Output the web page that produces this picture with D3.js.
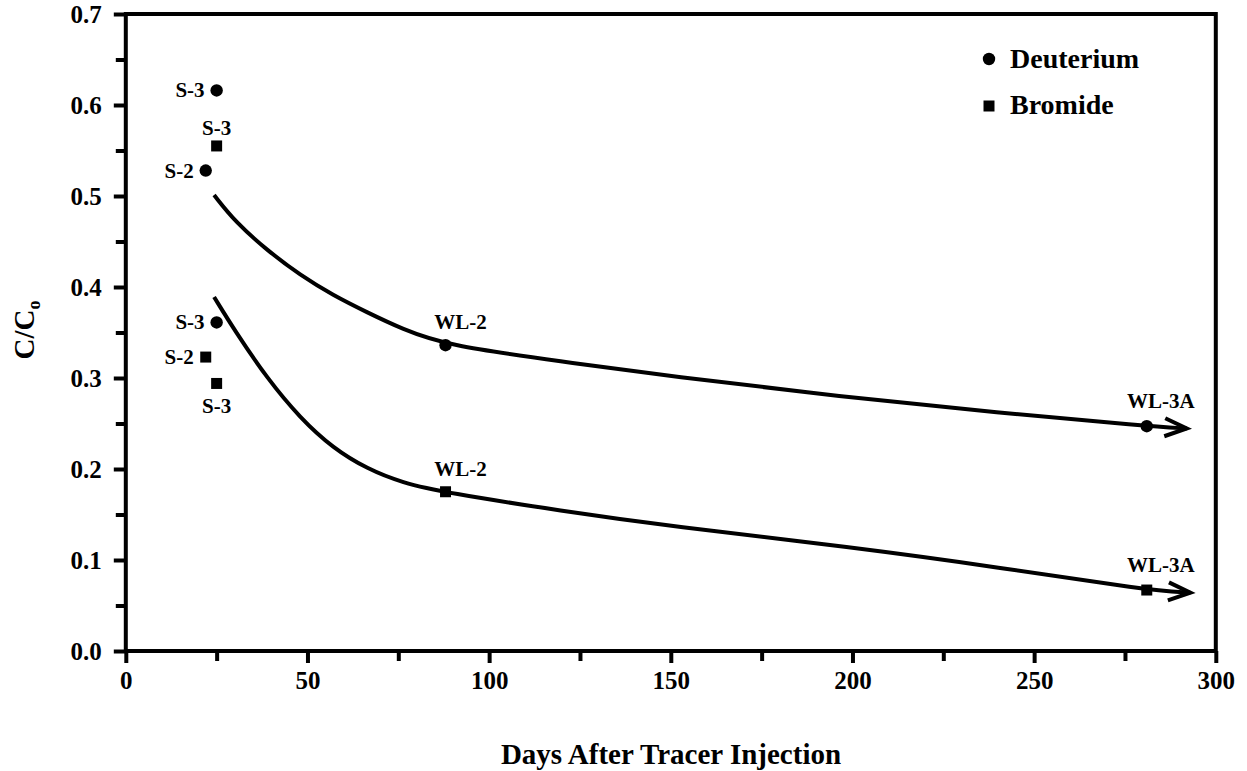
<!DOCTYPE html>
<html>
<head>
<meta charset="utf-8">
<script src="https://cdn.jsdelivr.net/npm/d3@7"></script>
<style>
  body { margin: 0; background: #fff; }
  text { font-family: "Liberation Serif", "Times New Roman", serif; font-weight: bold; fill: #000; }
</style>
</head>
<body>
<svg id="chart"></svg>
<script>
// Data
const deutDays   = [25, 22, 25, 88, 281];
const deutC      = [0.616, 0.528, 0.361, 0.336, 0.247];
const deutLabels = ["S-3", "S-2", "S-3", "WL-2", "WL-3A"];

const bromDays   = [25, 22, 25, 88, 281];
const bromC      = [0.555, 0.323, 0.294, 0.175, 0.067];
const bromLabels = ["S-3", "S-2", "S-3", "WL-2", "WL-3A"];

// hand drawn trend curves (ending in arrows)
const deutCurveX = [24.3, 30, 39, 48, 57, 66.5, 76, 88, 120, 150, 197, 240, 281, 292];
const deutCurveY = [0.501, 0.472, 0.440, 0.413, 0.391, 0.372, 0.354, 0.336, 0.318, 0.302, 0.2795, 0.262, 0.247, 0.2445];
const bromCurveX = [24.3, 30, 39, 48, 57, 66.5, 76, 88, 120, 150, 200, 240, 281, 293];
const bromCurveY = [0.389, 0.352, 0.299, 0.256, 0.223, 0.200, 0.185, 0.174, 0.154, 0.137, 0.114, 0.092, 0.067, 0.064];

const xTicks = [0, 50, 100, 150, 200, 250, 300];
const yTicks = [0.0, 0.1, 0.2, 0.3, 0.4, 0.5, 0.6, 0.7];

const legendNames = ["Deuterium", "Bromide"];

// where each point label sits
const deutLabelPos = ["left", "left", "left", "above", "aboveRight"];
const bromLabelPos = ["above", "left", "below", "above", "aboveRight"];

const width = 1247, height = 771;
const svg = d3.select("#chart").attr("width", width).attr("height", height);

const x = d3.scaleLinear().domain([0, 300]).range([125.8, 1215.8]);
const y = d3.scaleLinear().domain([0, 0.7]).range([651, 14]);

// frame
svg.append("rect")
  .attr("x", x(0)).attr("y", y(0.7))
  .attr("width", x(300) - x(0)).attr("height", y(0) - y(0.7))
  .attr("fill", "none").attr("stroke", "#000").attr("stroke-width", 4);

// x axis
const xAxis = d3.axisBottom(x).tickValues(xTicks).tickSize(12).tickPadding(8).tickFormat(d3.format("d"));
const gx = svg.append("g").attr("transform", `translate(0,${y(0)})`).call(xAxis);
gx.select(".domain").remove();
gx.selectAll(".tick line").attr("stroke-width", 4);
gx.selectAll(".tick text").style("font-size", "25px");
const gxm = svg.append("g").attr("transform", `translate(0,${y(0)})`)
  .call(d3.axisBottom(x).tickValues(d3.range(25, 300, 50)).tickSize(10).tickFormat(""));
gxm.select(".domain").remove();
gxm.selectAll(".tick line").attr("stroke-width", 4);

// y axis
const yAxis = d3.axisLeft(y).tickValues(yTicks).tickSize(12).tickPadding(12).tickFormat(d3.format(".1f"));
const gy = svg.append("g").attr("transform", `translate(${x(0)},0)`).call(yAxis);
gy.select(".domain").remove();
gy.selectAll(".tick line").attr("stroke-width", 4);
gy.selectAll(".tick text").style("font-size", "25px");
const gym = svg.append("g").attr("transform", `translate(${x(0)},0)`)
  .call(d3.axisLeft(y).tickValues(d3.range(0.05, 0.7, 0.1)).tickSize(10).tickFormat(""));
gym.select(".domain").remove();
gym.selectAll(".tick line").attr("stroke-width", 4);

// axis titles
svg.append("text")
  .attr("x", 671).attr("y", 764)
  .attr("text-anchor", "middle")
  .style("font-size", "29px")
  .text("Days After Tracer Injection");

const yt = svg.append("text")
  .attr("transform", "translate(34,330) rotate(-90)")
  .attr("text-anchor", "middle")
  .style("font-size", "29px");
yt.append("tspan").text("C/C");
yt.append("tspan").attr("dy", 6).style("font-size", "18px").text("o");

// curves
const line = d3.line().x(d => x(d[0])).y(d => y(d[1])).curve(d3.curveBasis);

function drawCurve(xs, ys) {
  const pts = xs.map((v, i) => [v, ys[i]]);
  svg.append("path")
    .datum(pts)
    .attr("d", line)
    .attr("fill", "none").attr("stroke", "#000").attr("stroke-width", 4);
  // open arrow head at the end
  const a = pts[pts.length - 2], b = pts[pts.length - 1];
  const ang = Math.atan2(y(b[1]) - y(a[1]), x(b[0]) - x(a[0]));
  svg.append("path")
    .attr("d", "M-22,-9 L0,0 L-22,9")
    .attr("transform", `translate(${x(b[0])},${y(b[1])}) rotate(${ang * 180 / Math.PI})`)
    .attr("fill", "none").attr("stroke", "#000").attr("stroke-width", 4)
    .attr("stroke-linejoin", "miter");
}
drawCurve(deutCurveX, deutCurveY);
drawCurve(bromCurveX, bromCurveY);

// markers
const circleSym = d3.symbol().type(d3.symbolCircle).size(Math.PI * 6.2 * 6.2);
const squareSym = d3.symbol().type(d3.symbolSquare).size(11 * 11);

function drawPoints(days, vals, sym) {
  svg.append("g").selectAll("path")
    .data(days.map((d, i) => [d, vals[i]]))
    .join("path")
    .attr("d", sym)
    .attr("transform", d => `translate(${x(d[0])},${y(d[1])})`)
    .attr("fill", "#000");
}
drawPoints(deutDays, deutC, circleSym);
drawPoints(bromDays, bromC, squareSym);

// point labels
function drawLabels(days, vals, labels, pos) {
  svg.append("g").selectAll("text")
    .data(labels.map((l, i) => ({ l, px: x(days[i]), py: y(vals[i]), p: pos[i] })))
    .join("text")
    .style("font-size", "21px")
    .attr("text-anchor", d => d.p === "left" ? "end" : "middle")
    .attr("x", d => d.p === "left" ? d.px - 12 : d.p === "aboveRight" ? d.px + 14 : d.p === "above" && d.l === "WL-2" ? d.px + 15 : d.px)
    .attr("y", d => d.p === "left" ? d.py + 7 : d.p === "below" ? d.py + 30 : d.p === "aboveRight" ? d.py - 18 : d.l === "WL-2" ? d.py - 16 : d.py - 11)
    .text(d => d.l);
}
drawLabels(deutDays, deutC, deutLabels, deutLabelPos);
drawLabels(bromDays, bromC, bromLabels, bromLabelPos);

// legend
const leg = svg.append("g");
leg.append("path").attr("d", circleSym).attr("transform", "translate(989,59)");
leg.append("path").attr("d", squareSym).attr("transform", "translate(989,106)");
leg.selectAll("text")
  .data(legendNames)
  .join("text")
  .attr("x", 1010)
  .attr("y", (d, i) => 68 + i * 46)
  .style("font-size", "28px")
  .text(d => d);
</script>
</body>
</html>
